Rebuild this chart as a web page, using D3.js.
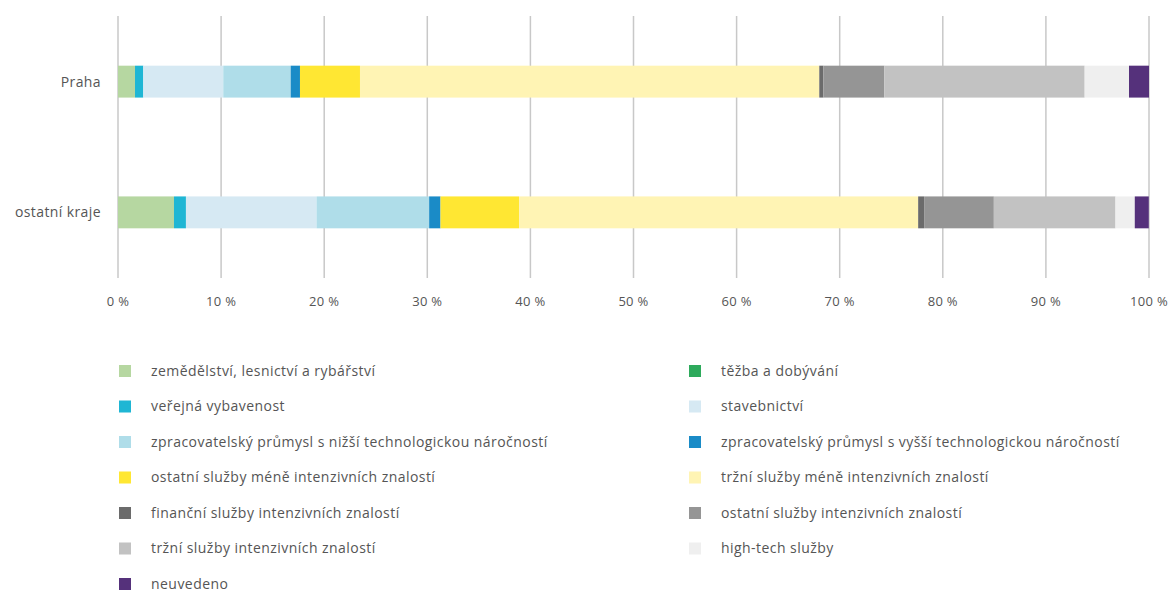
<!DOCTYPE html>
<html>
<head>
<meta charset="utf-8">
<script src="https://cdn.jsdelivr.net/npm/d3@7"></script>
<style>
  body { margin: 0; background: #fff; }
  text { font-family: "Open Sans", sans-serif; fill: #555; }
</style>
</head>
<body>
<script>
const regions = ["Praha", "ostatní kraje"];

const sectors = [
  "zemědělství, lesnictví a rybářství",
  "těžba a dobývání",
  "veřejná vybavenost",
  "stavebnictví",
  "zpracovatelský průmysl s nižší technologickou náročností",
  "zpracovatelský průmysl s vyšší technologickou náročností",
  "ostatní služby méně intenzivních znalostí",
  "tržní služby méně intenzivních znalostí",
  "finanční služby intenzivních znalostí",
  "ostatní služby intenzivních znalostí",
  "tržní služby intenzivních znalostí",
  "high-tech služby",
  "neuvedeno"
];

// share in % per sector, same order as sectors
const praha = [1.65, 0.0, 0.8, 7.76, 6.54, 0.9, 5.82, 44.55, 0.39, 5.92, 19.43, 4.3, 1.94];
const ostatni = [5.43, 0.0, 1.16, 12.67, 10.92, 1.1, 7.62, 38.71, 0.58, 6.76, 11.8, 1.87, 1.36];

const colors = [
  "#b6d7a1", "#2eaa5c", "#1fb6d4", "#d6e9f3", "#afdde9", "#1a8bc7",
  "#ffe733", "#fff4b4", "#6b6b6b", "#959595", "#c2c2c2", "#efefef", "#55317b"
];

const ticks = [0, 10, 20, 30, 40, 50, 60, 70, 80, 90, 100];

const w = 1176;
const h = 593;

const svg = d3.select("body").append("svg").attr("width", w).attr("height", h);

const x = d3.scaleLinear().domain([0, 100]).range([118, 1149]);
const y = d3.scaleBand().domain(regions).range([16, 278]).paddingInner(0.756).paddingOuter(0.38);

// gridlines
svg
  .selectAll("line.grid")
  .data(ticks)
  .enter()
  .append("line")
  .attr("class", "grid")
  .attr("x1", (d) => x(d))
  .attr("x2", (d) => x(d))
  .attr("y1", 16)
  .attr("y2", 278)
  .attr("stroke", "#c8c8c8")
  .attr("stroke-width", 1.5);

// x axis labels
svg
  .selectAll("text.tick")
  .data(ticks)
  .enter()
  .append("text")
  .attr("class", "tick")
  .attr("x", (d) => x(d))
  .attr("y", 306)
  .attr("text-anchor", "middle")
  .style("font-size", "13px")
  .style("letter-spacing", "0.3px")
  .text((d) => d + " %");

// stacked bars
const rows = [praha, ostatni];
rows.forEach((vals, r) => {
  let acc = 0;
  const segs = vals.map((v, i) => {
    const s = { x0: acc, x1: acc + v, i: i };
    acc += v;
    return s;
  });
  svg
    .append("g")
    .selectAll("rect")
    .data(segs)
    .enter()
    .append("rect")
    .attr("x", (d) => x(d.x0))
    .attr("y", y(regions[r]))
    .attr("width", (d) => x(d.x1) - x(d.x0))
    .attr("height", y.bandwidth())
    .attr("fill", (d) => colors[d.i]);
});

// category labels
svg
  .selectAll("text.cat")
  .data(regions)
  .enter()
  .append("text")
  .attr("class", "cat")
  .attr("x", 101)
  .attr("y", (d) => y(d) + y.bandwidth() / 2)
  .attr("dy", "0.35em")
  .attr("text-anchor", "end")
  .style("font-size", "14px")
  .style("letter-spacing", "0.4px")
  .text((d) => d);

// legend, two columns
const legend = svg
  .selectAll("g.leg")
  .data(sectors)
  .enter()
  .append("g")
  .attr("class", "leg")
  .attr("transform", (d, i) => {
    const col = i % 2;
    const row = Math.floor(i / 2);
    return `translate(${col === 0 ? 119 : 689},${371 + row * 35.5})`;
  });

legend
  .append("rect")
  .attr("x", 0)
  .attr("y", -6)
  .attr("width", 12)
  .attr("height", 12)
  .attr("fill", (d, i) => colors[i]);

legend
  .append("text")
  .attr("x", 32)
  .attr("y", 0)
  .attr("dy", "0.35em")
  .style("font-size", "14px")
  .style("letter-spacing", "0.45px")
  .text((d) => d);
</script>
</body>
</html>
